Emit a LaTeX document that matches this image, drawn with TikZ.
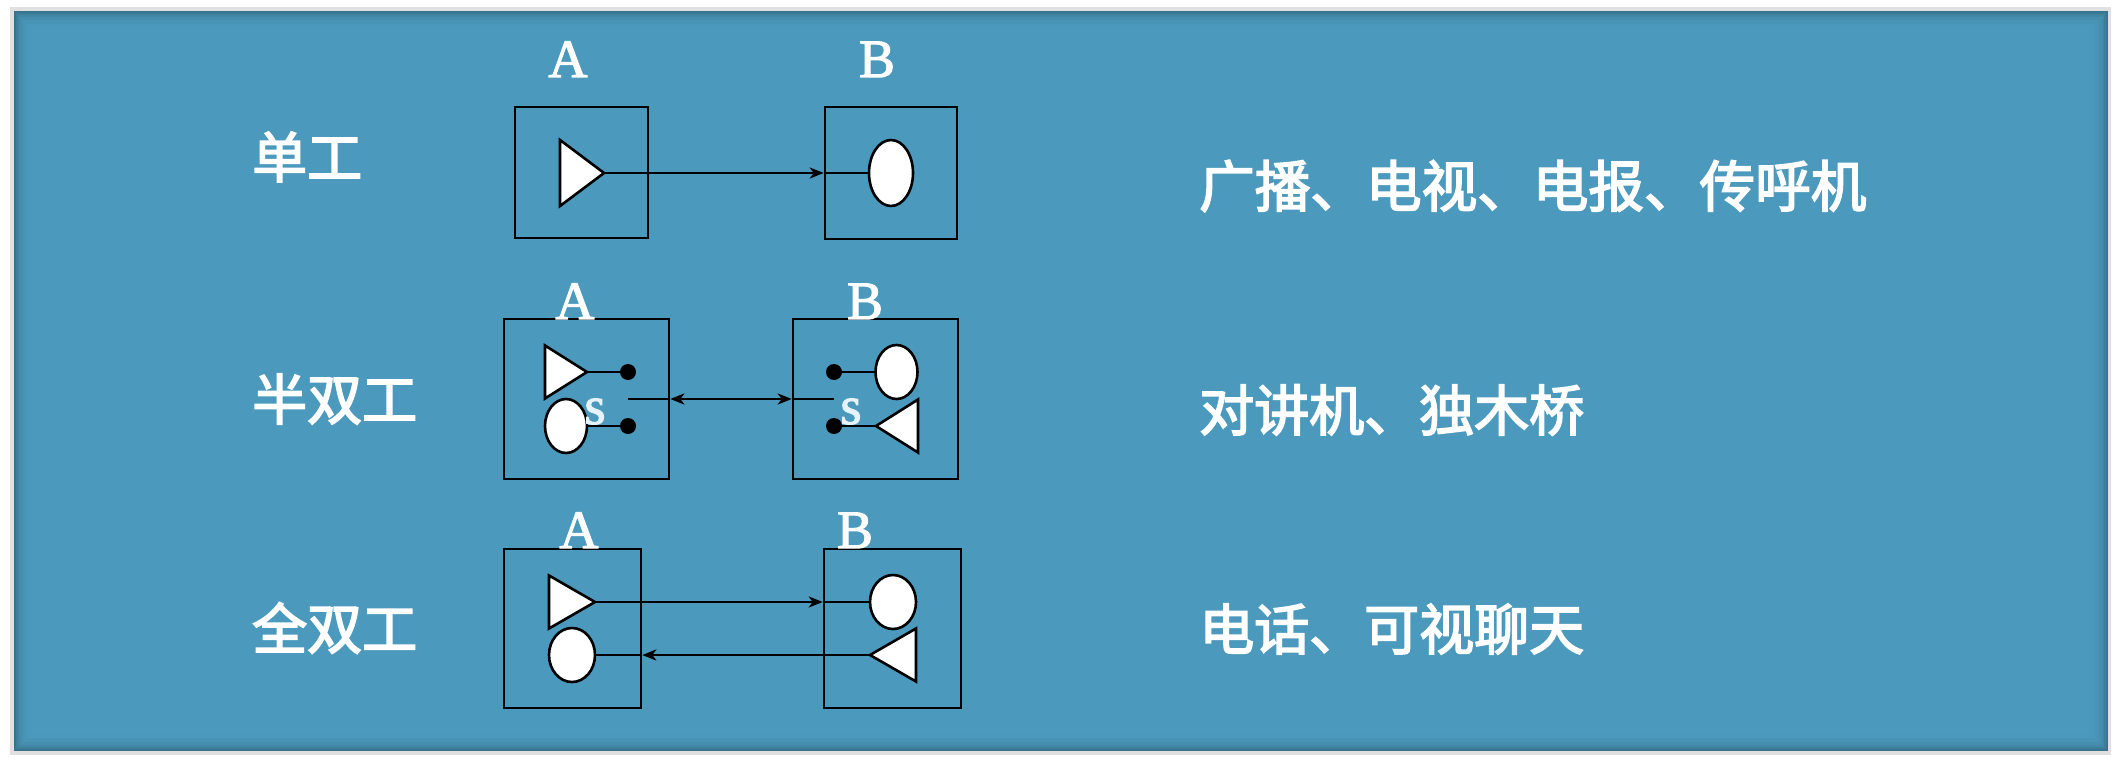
\documentclass[tikz,border=0pt]{standalone}
\usepackage{fontspec}
\setmainfont[FakeBold=2]{Liberation Serif}
\newfontfamily\cjk[FakeBold=3]{Noto Sans CJK SC}
\usetikzlibrary{arrows.meta,shapes.geometric}
\definecolor{panelblue}{HTML}{4B9ABD}
\definecolor{paleblue}{HTML}{E6F3F8}
\tikzset{
	>={Stealth[length=14pt, width=11pt, inset=4pt]},
	station/.style={draw, black, line width=2.6pt, inner sep=0pt},
	sender/.style={isosceles triangle, isosceles triangle stretches, draw, black, fill=white,
		line width=2.6pt, inner sep=0pt, outer sep=0pt, minimum width=66pt, minimum height=44pt, anchor=apex},
	receiver/.style={ellipse, draw, black, fill=white, line width=2.6pt, inner sep=0pt, outer sep=0pt},
	contact/.style={circle, fill=black, inner sep=0pt, outer sep=0pt, minimum size=16pt},
	wire/.style={line width=2.6pt, black},
	station label/.style={white, font=\fontsize{54}{54}\selectfont, inner sep=0pt, anchor=base},
	mode label/.style={white, font=\cjk\fontsize{55}{55}\selectfont, inner sep=0pt, anchor=west},
	use label/.style={white, font=\cjk\fontsize{55}{55}\selectfont, inner sep=0pt, anchor=west}
}

\begin{document}
\begin{tikzpicture}[x=1pt, y=-1pt]
	\useasboundingbox (0,0) rectangle (2118,768);
	\fill [white] (0,0) rectangle (2118,768);

	% panel
	\fill [black!12] (10,7) rectangle (2111,755);
	\fill [panelblue!75!black] (14,11) rectangle (2108,751);
	\foreach \d/\c in {2/82,4/88,6/92,9/96,13/99,18/100}
		\fill [panelblue!\c!black] (14+\d,11+\d) rectangle (2108-\d,751-\d);

	% simplex
	\node [mode label] (simplex) at (252,157) {单工};
	\node [use label, font=\cjk\fontsize{55.6}{55.6}\selectfont] (use1) at (1199,186) {广播、电视、电报、传呼机};
	\node [station, minimum width=133pt, minimum height=131pt] (a1) at (581.5,172.5) {};
	\node [station, minimum width=132pt, minimum height=132pt] (b1) at (891,173) {};
	\node [station label] (la1) at (568,77) {A};
	\node [station label] (lb1) at (877,77) {B};
	\node [sender] (s1) at (604,173) {};
	\node [receiver, minimum width=44pt, minimum height=66pt] (r1) at (891,173) {};
	\draw [wire, ->] (s1.apex) -- (s1.apex -| b1.west);
	\draw [wire] (s1.apex -| b1.west) -- (r1.west);

	% half duplex
	\node [mode label] (half) at (252,399) {半双工};
	\node [use label] (use2) at (1199,410) {对讲机、独木桥};
	\node [station, minimum width=165pt, minimum height=160pt] (a2) at (586.5,399) {};
	\node [station, minimum width=165pt, minimum height=160pt] (b2) at (875.5,399) {};
	\node [station label] (la2) at (575,319) {A};
	\node [station label] (lb2) at (865,319) {B};
	\node [sender, minimum width=53pt, minimum height=42pt] (s2) at (587,372) {};
	\node [receiver, minimum width=42pt, minimum height=54pt] (r2) at (566,426) {};
	\node [receiver, minimum width=42pt, minimum height=54pt] (r3) at (896.5,372) {};
	\node [sender, minimum width=53pt, minimum height=42pt, shape border rotate=180] (s3) at (876,426) {};
	\node [contact] (c1) at (628,372) {};
	\node [contact] (c2) at (628,426) {};
	\node [contact] (c3) at (834,372) {};
	\node [contact] (c4) at (834,426) {};
	\coordinate (m1) at (628,399);
	\coordinate (m2) at (834,399);
	\node [station label, text=paleblue] (sw1) at (595,424) {s};
	\node [station label, text=paleblue] (sw2) at (851,424) {s};
	\draw [wire] (s2.apex) -- (c1);
	\draw [wire] (r2.east) -- (c2);
	\draw [wire] (r3.west) -- (c3);
	\draw [wire] (s3.apex) -- (c4);
	\draw [wire] (m1) -- (a2.east);
	\draw [wire, <->] (a2.east) -- (b2.west);
	\draw [wire] (b2.west) -- (m2);

	% full duplex
	\node [mode label] (full) at (252,628) {全双工};
	\node [use label] (use3) at (1199,629) {电话、可视聊天};
	\node [station, minimum width=137pt, minimum height=159pt] (a3) at (572.5,628.5) {};
	\node [station, minimum width=137pt, minimum height=159pt] (b3) at (892.5,628.5) {};
	\node [station label] (la3) at (579,548) {A};
	\node [station label] (lb3) at (855,548) {B};
	\node [sender, minimum width=53pt, minimum height=46pt] (s4) at (595,602) {};
	\node [receiver, minimum width=46pt, minimum height=54pt] (r4) at (572,655) {};
	\node [receiver, minimum width=46pt, minimum height=54pt] (r5) at (893,602) {};
	\node [sender, minimum width=53pt, minimum height=46pt, shape border rotate=180] (s5) at (870,655) {};
	\draw [wire, ->] (s4.apex) -- (s4.apex -| b3.west);
	\draw [wire] (s4.apex -| b3.west) -- (r5.west);
	\draw [wire, ->] (s5.apex) -- (s5.apex -| a3.east);
	\draw [wire] (s5.apex -| a3.east) -- (r4.east);
\end{tikzpicture}
\end{document}
